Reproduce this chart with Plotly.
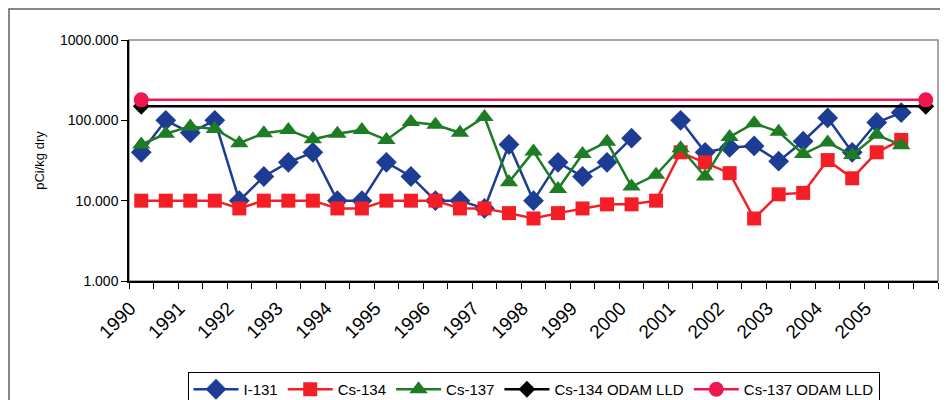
import plotly.graph_objects as go

# ---- data (semi-annual samples, 1990-2006) ----
years = [str(y) for y in range(1990, 2006)]
n_periods = 33

i131 = [40, 100, 70, 100, 10, 20, 30, 40, 10, 10, 30, 20, 10, 10, 8, 50, 10,
        30, 20, 30, 60, None, 100, 40, 46, 48, 31, 55, 107, 40, 94, 125, None]
cs134 = [10, 10, 10, 10, 8, 10, 10, 10, 8, 8, 10, 10, 10, 8, 8, 7, 6,
         7, 8, 9, 9, 10, 40, 30, 22, 6, 12, 12.5, 32, 19, 40, 57, None]
cs137 = [50, 68, 84, 78, 52, 69, 76, 58, 68, 76, 57, 95, 88, 70, 110, 17, 41,
         14, 38, 54, 15, 21, 45, 20, 62, 92, 72, 38, 53, 37, 66, 49, None]
cs134_lld = 150
cs137_lld = 180

x = list(range(n_periods))
lld_x = [x[0], x[-1]]

BLUE = "#1D3C93"
RED = "#F41E26"
GREEN = "#1E7D24"
PINK = "#F0164F"

fig = go.Figure()
fig.add_trace(go.Scatter(x=x, y=i131, name="I-131", mode="lines+markers",
                         line=dict(color=BLUE, width=2.5), connectgaps=False,
                         marker=dict(symbol="diamond", size=16, color=BLUE)))
fig.add_trace(go.Scatter(x=x, y=cs134, name="Cs-134", mode="lines+markers",
                         line=dict(color=RED, width=2.5),
                         marker=dict(symbol="square", size=14, color=RED)))
fig.add_trace(go.Scatter(x=x, y=cs137, name="Cs-137", mode="lines+markers",
                         line=dict(color=GREEN, width=2.5),
                         marker=dict(symbol="triangle-up", size=16, color=GREEN)))
fig.add_trace(go.Scatter(x=lld_x, y=[cs134_lld, cs134_lld], name="Cs-134 ODAM LLD",
                         mode="lines+markers", line=dict(color="black", width=2.5),
                         marker=dict(symbol="diamond", size=13, color="black")))
fig.add_trace(go.Scatter(x=lld_x, y=[cs137_lld, cs137_lld], name="Cs-137 ODAM LLD",
                         mode="lines+markers", line=dict(color=PINK, width=2.5),
                         marker=dict(symbol="circle", size=15, color=PINK)))

# page has an 8px body margin; figure sized to fit the 948x400 window
OFF = 8
W, H = 948 - OFF, 400 - OFF
L, R, T, B = 129 - OFF, 938 - OFF, 40 - OFF, 281 - OFF
pw, ph = R - L, B - T

fig.update_layout(
    width=W, height=H,
    margin=dict(l=L, r=W - R, t=T, b=H - B, autoexpand=False),
    paper_bgcolor="white", plot_bgcolor="white",
    font=dict(family="Liberation Sans, Arial, sans-serif", color="black"),
    showlegend=True,
    legend=dict(orientation="h", x=0.5, xanchor="center",
                y=(B - (372 - OFF)) / ph, yanchor="top",
                bordercolor="black", borderwidth=1,
                font=dict(size=15), itemwidth=45, tracegroupgap=0),
    shapes=[
        dict(type="rect", xref="paper", yref="paper", x0=0, x1=1, y0=0, y1=1,
             line=dict(color="#8a8a8a", width=1.5), layer="below"),
        dict(type="rect", xref="paper", yref="paper",
             x0=(1 - L) / pw, x1=(W + 20 - L) / pw,
             y0=(B - H - 20) / ph, y1=(B - 1) / ph,
             line=dict(color="#606060", width=1.5), layer="below"),
    ],
)

fig.update_xaxes(
    automargin=False,
    range=[-0.5, n_periods - 0.5],
    tickmode="array", tickvals=[v - 0.45 for v in x[::2][:len(years)]], ticktext=years,
    tickangle=-45, ticks="", ticklabelstandoff=7,
    tickfont=dict(size=19),
    showline=True, linecolor="black", linewidth=1.5,
    showgrid=False, zeroline=False,
    minor=dict(tickmode="array", tickvals=[v - 0.5 for v in range(n_periods + 1)],
               ticks="outside", ticklen=6, tickcolor="black", tickwidth=1, showgrid=False),
)

fig.update_yaxes(
    automargin=False,
    type="log", range=[0, 3],
    tickmode="array", tickvals=[1, 10, 100, 1000],
    ticktext=["1.000", "10.000", "100.000", "1000.000"],
    ticks="outside", ticklen=6, tickcolor="black",
    tickfont=dict(size=14),
    showline=True, linecolor="black", linewidth=1.5,
    showgrid=False, zeroline=False,
    title=dict(text="pCi/kg dry", font=dict(size=13), standoff=12),
)

fig.write_html("out.html")
